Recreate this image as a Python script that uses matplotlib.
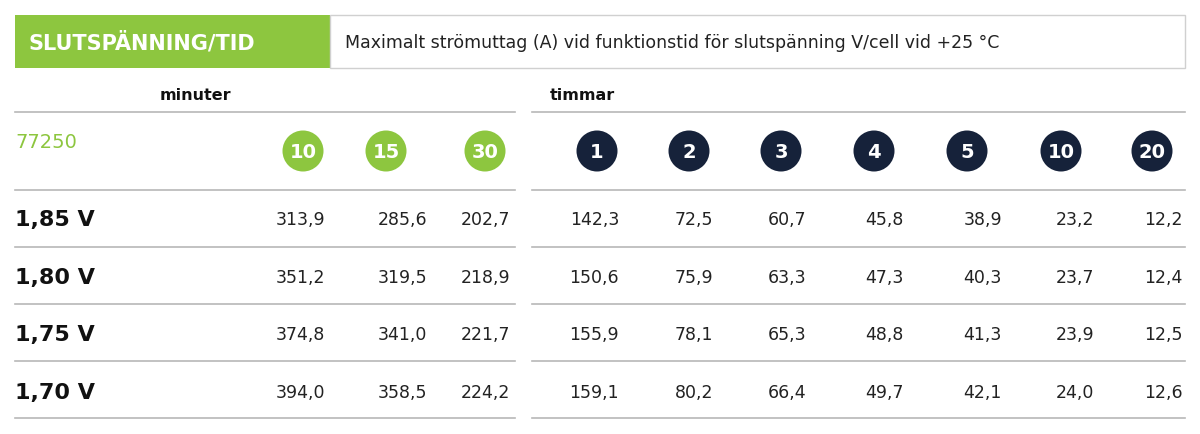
import matplotlib.pyplot as plt
from matplotlib.patches import Rectangle, Circle

model = '77250'
minute_cols = ['10', '15', '30']
hour_cols = ['1', '2', '3', '4', '5', '10', '20']
voltages = ['1,85 V', '1,80 V', '1,75 V', '1,70 V']
values = [
    ['313,9', '285,6', '202,7', '142,3', '72,5', '60,7', '45,8', '38,9', '23,2', '12,2'],
    ['351,2', '319,5', '218,9', '150,6', '75,9', '63,3', '47,3', '40,3', '23,7', '12,4'],
    ['374,8', '341,0', '221,7', '155,9', '78,1', '65,3', '48,8', '41,3', '23,9', '12,5'],
    ['394,0', '358,5', '224,2', '159,1', '80,2', '66,4', '49,7', '42,1', '24,0', '12,6'],
]

GREEN = '#8dc63f'
NAVY = '#16223a'
GREY = '#b8b8b8'

fig = plt.figure(figsize=(12, 4.34), dpi=100)
ax = fig.add_axes([0, 0, 1, 1])
ax.set_xlim(0, 1200)
ax.set_ylim(434, 0)
ax.axis('off')

# title bar
ax.add_patch(Rectangle((15, 15), 315, 53, color=GREEN, lw=0))
ax.add_patch(Rectangle((330, 15), 855, 53, fill=False, ec='#d0d0d0', lw=1))
ax.text(28, 43, 'SLUTSPÄNNING/TID', color='white', fontsize=15, fontweight='bold',
        va='center', ha='left')
ax.text(345, 43, 'Maximalt strömuttag (A) vid funktionstid för slutspänning V/cell vid +25 °C',
        color='#222222', fontsize=12.5, va='center', ha='left')

ax.text(160, 96, 'minuter', fontsize=11.5, fontweight='bold', va='center', color='#111111')
ax.text(550, 96, 'timmar', fontsize=11.5, fontweight='bold', va='center', color='#111111')
ax.text(15, 143, model, fontsize=14, color=GREEN, va='center')

# grid lines
for y in [112, 190, 247, 304, 361, 418]:
    ax.plot([15, 515], [y, y], color=GREY, lw=1.2)
    ax.plot([532, 1185], [y, y], color=GREY, lw=1.2)

circle_x = [303, 386, 485, 597, 689, 781, 874, 967, 1061, 1152]
labels = minute_cols + hour_cols
for i, (cx, lab) in enumerate(zip(circle_x, labels)):
    col = GREEN if i < len(minute_cols) else NAVY
    ax.add_patch(Circle((cx, 151), 20.5, color=col, lw=0))
    ax.text(cx, 152, lab, color='white', fontsize=14, fontweight='bold', ha='center', va='center')

value_x = [325, 427, 510, 619, 713, 806, 904, 1002, 1094, 1183]
row_y = [220, 278, 335, 393]
for v, row, y in zip(voltages, values, row_y):
    ax.text(15, y, v, fontsize=16, fontweight='bold', va='center', color='#111111')
    for x, val in zip(value_x, row):
        ax.text(x, y, val, fontsize=12.5, ha='right', va='center', color='#222222')

fig.savefig('out.png', dpi=100)
